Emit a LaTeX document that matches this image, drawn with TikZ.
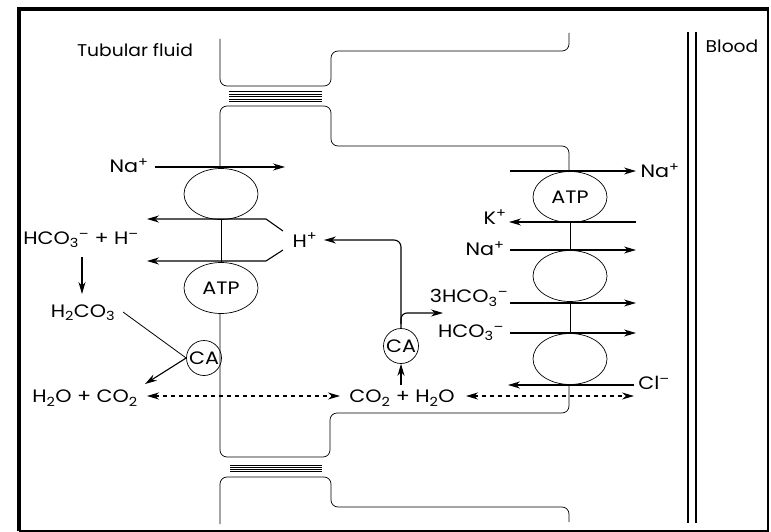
\documentclass[tikz,border=0pt]{standalone}
\usepackage{fontspec}
\setmainfont{Poppins}
\newfontfamily\lblfont{Poppins}[FakeStretch=1.15]
\newfontfamily\ttlfont{Poppins}[FakeStretch=1.1]
\usetikzlibrary{arrows.meta,shapes.geometric}
\newcommand{\sbs}[1]{\textsubscript{#1}}
\newcommand{\sps}[1]{\textsuperscript{#1}}
\newcommand{\pls}{\hspace{0.3em}+\hspace{0.3em}}
\begin{document}
\begin{tikzpicture}[x=1pt,y=-1pt,
  lbl/.style={inner sep=0pt, font=\lblfont\fontsize{18}{20}\selectfont},
  ttl/.style={inner sep=0pt, font=\ttlfont\fontsize{17}{19}\selectfont},
  mem/.style={line width=0.7pt},
  tj/.style={line width=0.5pt},
  carrier/.style={draw, ellipse, minimum width=74pt, minimum height=51pt, inner sep=0pt, line width=0.7pt, font=\lblfont\fontsize{18}{20}\selectfont},
  ca/.style={draw, circle, minimum size=35pt, inner sep=0pt, line width=0.7pt, font=\lblfont\fontsize{18}{20}\selectfont},
  arr/.style={line width=1.1pt, -{Stealth[length=12pt,width=7pt]}},
  ln/.style={line width=0.8pt},
  darr/.style={line width=1.1pt, dash pattern=on 4pt off 4pt, {Stealth[length=12pt,width=7pt]}-{Stealth[length=12pt,width=7pt]}},
]
\useasboundingbox (0,0) rectangle (771,532);
% frame
\draw[line width=3.5pt] (19,531) -- (19,9) -- (769,9);
\draw[line width=2pt] (768,9) -- (768,531) -- (19,531);

% titles
\node[ttl] (tf) at (135,50) {Tubular fluid};
\node[ttl] (bl) at (732,46) {Blood};

% blood vessel
\draw[line width=1.2pt] (688,32) -- (688,523);
\draw[line width=1.2pt] (696,32) -- (696,523);

% membranes
\draw[mem, rounded corners=7pt] (220,39) -- (220,86) -- (331,86) -- (331,51) -- (569,51) -- (569,33);
\foreach \yy in {91.7,94.3,96.7,99,101.3} \draw[tj] (229,\yy) -- (322,\yy);
\draw[mem, rounded corners=7pt] (220,167) -- (220,106) -- (331,106) -- (331,146) -- (569,146) -- (569,172);

\draw[mem, rounded corners=7pt] (220,313) -- (220,457) -- (330,457) -- (330,413) -- (569,413) -- (569,385);
\foreach \yy in {465,467.3,469.5,471.5} \draw[tj] (230,\yy) -- (322,\yy);
\draw[mem, rounded corners=7pt] (220,524) -- (220,477) -- (331,477) -- (331,507) -- (569,507) -- (569,522);

% left carriers
\node[carrier] (e1) at (221,194) {};
\node[carrier] (e2) at (221,288) {ATP};
\draw[mem] (e1.south) -- (e2.north);

% right carriers
\node[carrier] (r1) at (570,197) {ATP};
\node[carrier] (r2) at (570,276) {};
\node[carrier] (r3) at (570,359) {};
\draw[mem] (r1.south) -- (r2.north);
\draw[mem] (r2.south) -- (r3.north);

% left side labels
\node[lbl] (naL) at (129,166) {Na\sps{+}};
\node[lbl] (hco3h) at (81,240) {HCO\sbs{3}\sps{–}\pls H\sps{–}};
\node[lbl] (h2co3) at (83,313) {H\sbs{2}CO\sbs{3}};
\node[lbl] (h2oco2) at (85,398) {H\sbs{2}O\pls CO\sbs{2}};
\node[lbl] (hp) at (305,240) {H\sps{+}};
\node[ca] (caL) at (204,358) {CA};

% centre
\node[lbl] (co2h2o) at (402,398) {CO\sbs{2}\pls H\sbs{2}O};
\node[ca] (caC) at (401,346) {CA};

% right labels
\node[lbl] (naR1) at (660,171) {Na\sps{+}};
\node[lbl] (kR) at (495,217) {K\sps{+}};
\node[lbl] (naR2) at (485,249) {Na\sps{+}};
\node[lbl] (hco3a) at (469,298) {3HCO\sbs{3}\sps{–}};
\node[lbl] (hco3b) at (471,333) {HCO\sbs{3}\sps{–}};
\node[lbl] (cl) at (654,383) {Cl\sps{–}};

% coordinates for free ends
\coordinate (a1s) at (155,167); \coordinate (a1e) at (285,167);
\coordinate (f1) at (283,231); \coordinate (f1b) at (266,219); \coordinate (f1e) at (147,219);
\coordinate (f2) at (283,250); \coordinate (f2b) at (266,261); \coordinate (f2e) at (147,261);

% left arrows
\draw[arr] (a1s) -- (a1e);
\draw[arr] (f1) -- (f1b) -- (f1e);
\draw[arr] (f2) -- (f2b) -- (f2e);
\draw[arr] (82,257) -- (82,294);
\draw[ln] (123,312) -- (caL.west);
\draw[arr] (caL.west) -- (145,384);
\draw[darr] (147,396) -- (340,396);

% centre arrows
\draw[arr] (401,385) -- (caC.south);
\draw[arr, rounded corners=7pt] (caC.north) -- (401,240) -- (324,240);
\draw[arr, rounded corners=6pt] (401,324) -- (401,313) -- (443,313);

% right arrows
\draw[arr] (510,171) -- (636,171);
\draw[arr] (636,222) -- (509,222);
\draw[arr] (510,250) -- (636,250);
\draw[arr] (510,303) -- (636,303);
\draw[arr] (510,333) -- (636,333);
\draw[arr] (634,385) -- (508,385);
\draw[darr] (466,396) -- (634,396);
\end{tikzpicture}
\end{document}
